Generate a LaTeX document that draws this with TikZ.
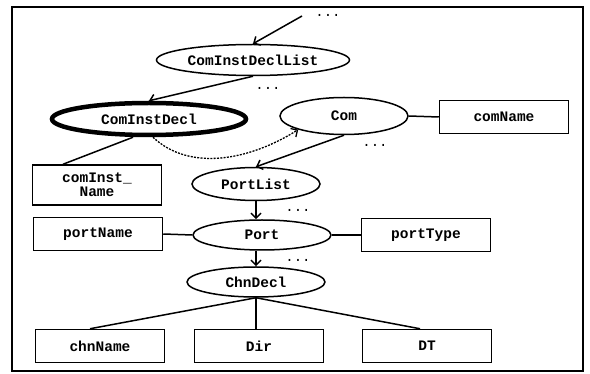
\documentclass[tikz,border=0pt]{standalone}
\usepackage{fontspec}
\usepackage{tikz}
\usetikzlibrary{shapes.geometric,arrows.meta}
\newfontfamily\treefont{Liberation Mono}

\begin{document}
\begin{tikzpicture}[x=1pt,y=-1pt,
	every node/.style={font=\treefont\bfseries\fontsize{14.5}{14}\selectfont},
	elem/.style={draw=black, ellipse, line width=1.5pt, inner sep=0pt},
	attr/.style={draw=black, rectangle, line width=1.5pt, minimum width=129pt, minimum height=33pt, inner sep=0pt},
	link/.style={draw=black, line width=1.5pt},
	arr/.style={link, -{Straight Barb[length=5pt,width=10pt]}},
	more/.style={inner sep=0pt, font=\treefont\fontsize{14}{14}\selectfont}]
	\useasboundingbox (0,0) rectangle (590,374);
	\draw[draw=black, line width=1.5pt] (12,7) rectangle (583,371);
	% element nodes
	\node[elem, minimum width=193pt, minimum height=31pt] (cdl) at (253,60) {ComInstDeclList};
	\node[elem, line width=4.5pt, minimum width=194pt, minimum height=32pt] (cid) at (149,119) {ComInstDecl};
	\node[elem, minimum width=128pt, minimum height=37pt] (com) at (344,116) {Com};
	\node[elem, minimum width=128pt, minimum height=33pt] (pl) at (256,184) {PortList};
	\node[elem, minimum width=138pt, minimum height=30pt] (port) at (262,235) {Port};
	\node[elem, minimum width=138pt, minimum height=30pt] (chn) at (256,282) {ChnDecl};
	% attribute boxes
	\node[attr] (cname) at (504,117) {comName};
	\node[attr, minimum height=40pt, align=center] (cin) at (97,185) {comInst\_\\Name};
	\node[attr] (pname) at (98,234) {portName};
	\node[attr] (ptype) at (426,235) {portType};
	\node[attr] (cn) at (100,346) {chnName};
	\node[attr] (dir) at (259,346) {Dir};
	\node[attr] (dt) at (427,346) {DT};
	% omitted siblings
	\node[more] (more1) at (328,15) {...};
	\node[more] (more2) at (268,88) {...};
	\node[more] (more3) at (375,145) {...};
	\node[more] (more4) at (298,210) {...};
	\node[more] (more5) at (298,260) {...};
	\coordinate (top) at (302,16);
	% connectors
	\draw[arr] (top) -- (cdl.north);
	\draw[arr] (cdl.south) -- (cid.north);
	\draw[link] ([xshift=-16pt]cid.south) -- ([xshift=-34pt]cin.north);
	\draw[arr, line width=1.3pt, dash pattern=on 2pt off 1.3pt] ([xshift=4pt]cid.south) .. controls (190,172) and (250,160) .. (com.south west);
	\draw[link] (com.east) -- (cname.west);
	\draw[arr] (com.south) -- (pl.north);
	\draw[arr] (pl.south) -- (pl.south |- port.north);
	\draw[link] (pname.east) -- (port.west);
	\draw[link] (port.east) -- (ptype.west);
	\draw[arr] (pl.south |- port.south) -- (pl.south |- chn.north);
	\draw[link] (chn.south) -- ([xshift=-10pt]cn.north);
	\draw[link] (chn.south) -- (chn.south |- dir.north);
	\draw[link] (chn.south) -- ([xshift=-7pt]dt.north);
\end{tikzpicture}
\end{document}
